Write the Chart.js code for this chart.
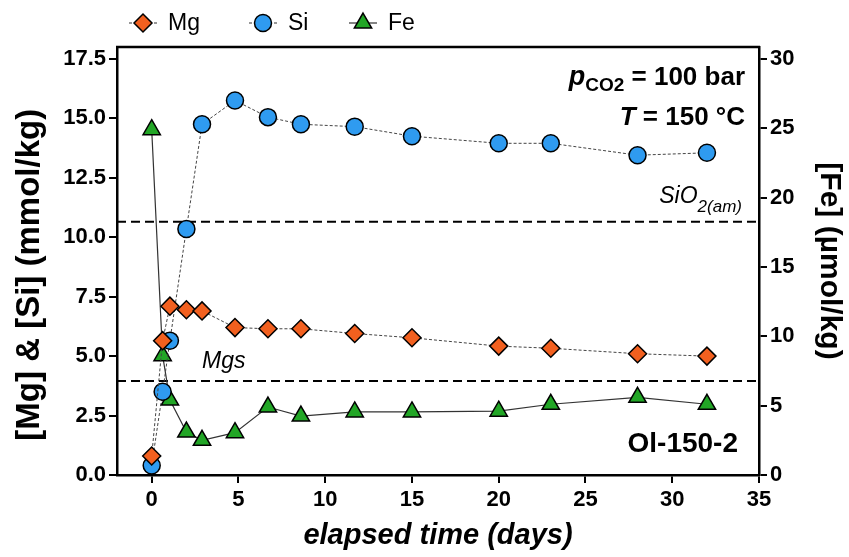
<!DOCTYPE html>
<html>
<head>
<meta charset="utf-8">
<script src="https://cdn.jsdelivr.net/npm/chart.js@4"></script>
<style>
  html, body { margin: 0; padding: 0; background: #fff; }
  #wrap { width: 849px; height: 557px; }
</style>
</head>
<body>
<div id="wrap"><canvas id="graficoQuimica" width="849" height="557"></canvas></div>
<script>
// datos
const dias = [0, 0.63, 1.05, 2, 2.9, 4.8, 6.7, 8.6, 11.7, 15, 20, 23, 28, 32];
const mg = [0.8, 5.65, 7.1, 6.95, 6.9, 6.2, 6.15, 6.15, 5.95, 5.77, 5.42, 5.33, 5.1, 5.0];
const si = [0.4, 3.5, 5.65, 10.35, 14.75, 15.75, 15.05, 14.75, 14.65, 14.25, 13.95, 13.95, 13.45, 13.55];
const fe = [24.9, 8.6, 5.4, 3.1, 2.5, 3.05, 4.9, 4.25, 4.55, 4.55, 4.6, 5.1, 5.6, 5.1];

const rangoX = [-2, 35];
const limiteSiO2 = 10.65;
const limiteMgs = 3.95;

const fuente = "'Liberation Sans', Arial, sans-serif";

const puntos = (ys) => dias.map((d, i) => ({ x: d, y: ys[i] }));
const lineaHorizontal = (y) => rangoX.map((x) => ({ x: x, y: y }));

const series = [
    { label: "Mg", color: "#f2601f", estilo: "rectRot", radio: 9, dash: [3, 2] },
    { label: "Si", color: "#2f9bf0", estilo: "circle", radio: 8.5, dash: [3, 2] },
    { label: "Fe", color: "#22a626", estilo: "triangle", radio: 10, dash: [] },
];

const dataGrafico = {
    datasets: [
        {
            label: "Mg",
            data: puntos(mg),
            yAxisID: "y",
            order: 1,
            borderColor: "#444",
            borderWidth: 1,
            borderDash: [3, 2],
            pointStyle: "rectRot",
            pointRadius: 9,
            pointBackgroundColor: "#f2601f",
            pointBorderColor: "#000",
            pointBorderWidth: 1.5,
        },
        {
            label: "Si",
            data: puntos(si),
            yAxisID: "y",
            order: 2,
            borderColor: "#444",
            borderWidth: 1,
            borderDash: [3, 2],
            pointStyle: "circle",
            pointRadius: 8.5,
            pointBackgroundColor: "#2f9bf0",
            pointBorderColor: "#000",
            pointBorderWidth: 1.5,
        },
        {
            label: "Fe",
            data: puntos(fe),
            yAxisID: "y1",
            order: 3,
            borderColor: "#333",
            borderWidth: 1.2,
            pointStyle: "triangle",
            pointRadius: 10,
            pointBackgroundColor: "#22a626",
            pointBorderColor: "#000",
            pointBorderWidth: 1.5,
        },
        {
            label: "SiO2(am)",
            data: lineaHorizontal(limiteSiO2),
            yAxisID: "y",
            order: 4,
            borderColor: "#000",
            borderWidth: 2,
            borderDash: [9, 5],
            pointRadius: 0,
        },
        {
            label: "Mgs",
            data: lineaHorizontal(limiteMgs),
            yAxisID: "y",
            order: 4,
            borderColor: "#000",
            borderWidth: 2,
            borderDash: [9, 5],
            pointRadius: 0,
        },
    ],
};

// leyenda y textos dibujados a mano
const pluginTextos = {
    id: "textos",
    afterDraw(chart) {
        const { ctx, chartArea: a } = chart;
        ctx.save();

        // borde superior del marco
        ctx.strokeStyle = "#000";
        ctx.lineWidth = 2.5;
        ctx.setLineDash([]);
        ctx.beginPath();
        ctx.moveTo(a.left - 1, a.top);
        ctx.lineTo(a.right + 1, a.top);
        ctx.stroke();

        // leyenda
        const posLeyenda = [143, 263, 363];
        series.forEach((s, i) => {
            const cx = posLeyenda[i];
            const cy = 23;
            ctx.strokeStyle = "#333";
            ctx.lineWidth = 1.2;
            ctx.setLineDash(s.dash);
            ctx.beginPath();
            ctx.moveTo(cx - 14, cy);
            ctx.lineTo(cx + 14, cy);
            ctx.stroke();
            ctx.setLineDash([]);
            ctx.fillStyle = s.color;
            ctx.strokeStyle = "#000";
            ctx.lineWidth = 1.5;
            Chart.helpers.drawPoint(ctx, { pointStyle: s.estilo, radius: s.radio, rotation: 0, borderWidth: 1.5 }, cx, cy);
            ctx.fillStyle = "#000";
            ctx.font = "23px " + fuente;
            ctx.textAlign = "left";
            ctx.textBaseline = "middle";
            ctx.fillText(s.label, cx + 25, cy + 1);
        });

        ctx.fillStyle = "#000";
        ctx.textBaseline = "alphabetic";

        // pCO2 = 100 bar
        const xDer = 745;
        const partes = [
            { t: "p", f: "italic bold 27px " + fuente, dy: 0 },
            { t: "CO2", f: "bold 19px " + fuente, dy: 6 },
            { t: " = 100 bar", f: "bold 26px " + fuente, dy: 0 },
        ];
        let ancho = 0;
        partes.forEach((p) => { ctx.font = p.f; ancho += ctx.measureText(p.t).width; });
        let x = xDer - ancho;
        ctx.textAlign = "left";
        partes.forEach((p) => {
            ctx.font = p.f;
            ctx.fillText(p.t, x, 85 + p.dy);
            x += ctx.measureText(p.t).width;
        });

        // T = 150 °C
        const partesT = [
            { t: "T", f: "italic bold 26px " + fuente },
            { t: " = 150 °C", f: "bold 26px " + fuente },
        ];
        ancho = 0;
        partesT.forEach((p) => { ctx.font = p.f; ancho += ctx.measureText(p.t).width; });
        x = xDer - ancho;
        partesT.forEach((p) => {
            ctx.font = p.f;
            ctx.fillText(p.t, x, 125);
            x += ctx.measureText(p.t).width;
        });

        // SiO2(am)
        const ySiO2 = chart.scales.y.getPixelForValue(limiteSiO2);
        ctx.font = "italic 23px " + fuente;
        const w1 = ctx.measureText("SiO").width;
        ctx.font = "italic 17px " + fuente;
        const w2 = ctx.measureText("2(am)").width;
        x = 742 - w1 - w2;
        ctx.font = "italic 23px " + fuente;
        ctx.fillText("SiO", x, ySiO2 - 19);
        ctx.font = "italic 17px " + fuente;
        ctx.fillText("2(am)", x + w1, ySiO2 - 10);

        // Mgs
        const yMgs = chart.scales.y.getPixelForValue(limiteMgs);
        ctx.font = "italic 23px " + fuente;
        ctx.fillText("Mgs", 202, yMgs - 13);

        // nombre del experimento
        ctx.font = "bold 28px " + fuente;
        ctx.textAlign = "right";
        ctx.fillText("Ol-150-2", 738, 452);

        ctx.restore();
    },
};

const configGrafico = {
    type: "line",
    data: dataGrafico,
    options: {
        responsive: false,
        animation: false,
        layout: { padding: { top: 47, left: 0, right: 0, bottom: 0 } },
        plugins: {
            legend: { display: false },
            tooltip: { enabled: false },
        },
        scales: {
            x: {
                type: "linear",
                min: rangoX[0],
                max: rangoX[1],
                afterFit: (escala) => { escala.height = 82; },
                border: { color: "#000", width: 2.5 },
                grid: { drawOnChartArea: false, color: "#000", lineWidth: 2, tickLength: 8 },
                ticks: {
                    stepSize: 5,
                    includeBounds: false,
                    color: "#000",
                    padding: 4,
                    font: { family: fuente, size: 22, weight: "bold" },
                },
                title: {
                    display: true,
                    text: "elapsed time (days)",
                    color: "#000",
                    padding: { top: 0, bottom: 4 },
                    font: { family: fuente, size: 29, weight: "bold", style: "italic" },
                },
            },
            y: {
                position: "left",
                min: 0,
                max: 18,
                afterFit: (escala) => { escala.width = 117; },
                border: { color: "#000", width: 2.5 },
                grid: { drawOnChartArea: false, color: "#000", lineWidth: 2, tickLength: 8 },
                ticks: {
                    stepSize: 2.5,
                    includeBounds: false,
                    color: "#000",
                    padding: 3,
                    font: { family: fuente, size: 22, weight: "bold" },
                    callback: (v) => v.toFixed(1),
                },
                title: {
                    display: true,
                    text: "[Mg] & [Si] (mmol/kg)   ",
                    color: "#000",
                    padding: { top: 10, bottom: 0 },
                    font: { family: fuente, size: 33, weight: "bold" },
                },
            },
            y1: {
                position: "right",
                min: 0,
                max: 18 * 30 / 17.5,
                afterFit: (escala) => { escala.width = 90; },
                border: { color: "#000", width: 2.5 },
                grid: { drawOnChartArea: false, color: "#000", lineWidth: 2, tickLength: 8 },
                ticks: {
                    stepSize: 5,
                    includeBounds: false,
                    color: "#000",
                    padding: 3,
                    font: { family: fuente, size: 22, weight: "bold" },
                },
                title: {
                    display: true,
                    text: "[Fe] (\u00b5mol/kg)",
                    color: "#000",
                    padding: { top: 2, bottom: 0 },
                    font: { family: fuente, size: 30, weight: "bold" },
                },
            },
        },
    },
    plugins: [pluginTextos],
};

const grafico = new Chart(document.getElementById("graficoQuimica"), configGrafico);
</script>
</body>
</html>
